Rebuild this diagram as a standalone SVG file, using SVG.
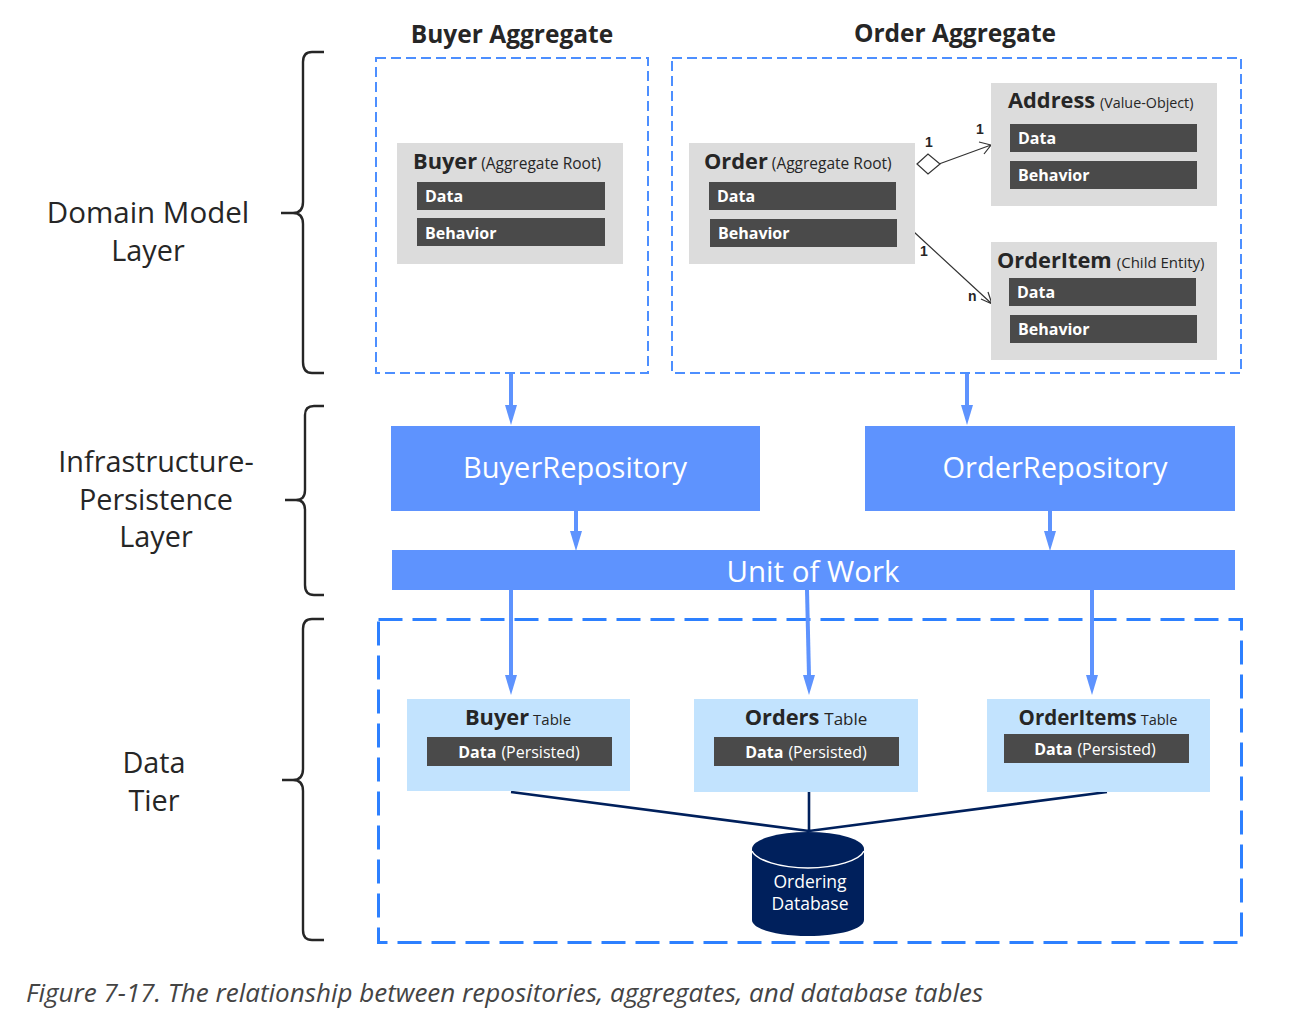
<svg xmlns="http://www.w3.org/2000/svg" width="1290" height="1024" viewBox="0 0 1290 1024">
<style>
text{font-family:"Open Sans","Noto Sans","Liberation Sans",sans-serif;fill:#262626}
.lay{font-size:28.800px;text-anchor:middle}
.hd{font-size:24.500px;font-weight:700;text-anchor:middle}
.grey{fill:#dcdcdc}
.dark{fill:#4a4a4a}
.tb{fill:#c2e3fe}
.blue{fill:#5e93fe}
.n{font-size:21.800px;font-weight:700}
.s{font-size:15.500px}
.t{font-size:15px}
.w{fill:#fff;font-size:16px;font-weight:700}
.wl{fill:#fff;font-weight:400;font-size:16px}
.big{fill:#fff;font-size:29px;text-anchor:middle}
.num{font-family:"Liberation Sans",sans-serif;font-size:14px;font-weight:700}
.brace{fill:none;stroke:#262626;stroke-width:2.4}
.dash{fill:none;stroke:#4d8fff;stroke-width:2;stroke-dasharray:10 5}
.dash2{fill:none;stroke:#2d80ff;stroke-width:3;stroke-dasharray:24 10}
.arr{stroke:#5e93fe;stroke-width:4;fill:none}
.thin{stroke:#333;stroke-width:1.2;fill:none}
.db{stroke:#00205c;stroke-width:2.6;fill:none}
</style>
<g id="layer-labels">
<text class="lay" x="148" y="223" style="font-size:29.500px">Domain Model</text><text class="lay" x="148" y="261">Layer</text>
<text class="lay" x="156" y="472">Infrastructure-</text><text class="lay" x="156" y="510">Persistence</text><text class="lay" x="156" y="547">Layer</text>
<text class="lay" x="154" y="773">Data</text><text class="lay" x="154" y="811">Tier</text>
</g>
<g id="braces">
<path class="brace" d="M324 52H312Q303 52 303 62V202Q303 213 293 213H281M293 213Q303 213 303 224V362Q303 373 312 373H324"/>
<path class="brace" d="M324 406H314Q305 406 305 415V490Q305 500 296 500H285M296 500Q305 500 305 510V585Q305 595 314 595H324"/>
<path class="brace" d="M324 619H312Q303 619 303 629V769Q303 780 293 780H282M293 780Q303 780 303 791V930Q303 940 312 940H324"/>
</g>
<g id="aggregate-titles">
<text class="hd" x="512" y="43">Buyer Aggregate</text>
<text class="hd" x="955" y="42">Order Aggregate</text>
</g>
<g id="buyer-aggregate"><rect class="dash" x="376" y="58" width="272" height="315"/></g>
<g id="order-aggregate"><rect class="dash" x="672" y="58" width="569" height="315"/></g>
<g id="data-tier"><rect class="dash2" x="378.500" y="619.500" width="863" height="323"/></g>
<g id="connectors">
<path class="arr" d="M511 374V406"/><path class="blue" d="M505 405H517L511 425Z"/>
<path class="arr" d="M967 374V406"/><path class="blue" d="M961 405H973L967 425Z"/>
<path class="arr" d="M576 511V532"/><path class="blue" d="M570 531H582L576 551Z"/>
<path class="arr" d="M1050 511V532"/><path class="blue" d="M1044 531H1056L1050 551Z"/>
<path class="arr" d="M511 590V676"/><path class="blue" d="M505 675H517L511 695Z"/>
<path class="arr" d="M807 590L809 676"/><path class="blue" d="M803 675H815L809 695Z"/>
<path class="arr" d="M1092 590V676"/><path class="blue" d="M1086 675H1098L1092 695Z"/>
<path class="thin" d="M939 164L991 145M979 142L991 145L984 154"/>
<path fill="#fff" stroke="#333" stroke-width="1.200" d="M917 164L928 154L940 164L928 174Z"/>
<path class="thin" d="M914 232L992 304M981 299L992 304L988 292"/>
<path class="db" d="M511 792L809 831L1107 792M809 792V831"/>
</g>
<g id="buyer"><rect class="grey" x="397" y="143" width="226" height="121"/><rect class="dark" x="417" y="182" width="188" height="28"/><rect class="dark" x="417" y="218" width="188" height="28"/>
<text x="413" y="169"><tspan class="n">Buyer</tspan><tspan class="s" dx="4">(Aggregate Root)</tspan></text><text class="w" x="425" y="202">Data</text><text class="w" x="425" y="239">Behavior</text></g>
<g id="order"><rect class="grey" x="689" y="143" width="226" height="121"/><rect class="dark" x="709" y="182" width="187" height="28"/><rect class="dark" x="710" y="219" width="187" height="28"/>
<text x="704" y="169"><tspan class="n">Order</tspan><tspan class="s" dx="4">(Aggregate Root)</tspan></text><text class="w" x="717" y="202">Data</text><text class="w" x="718" y="239">Behavior</text></g>
<g id="address"><rect class="grey" x="991" y="83" width="226" height="123"/><rect class="dark" x="1010" y="124" width="187" height="28"/><rect class="dark" x="1010" y="161" width="187" height="28"/>
<text x="1008" y="108"><tspan class="n">Address</tspan><tspan class="s" dx="5" style="font-size:14.300px">(Value-Object)</tspan></text><text class="w" x="1018" y="144">Data</text><text class="w" x="1018" y="181">Behavior</text></g>
<g id="orderitem"><rect class="grey" x="991" y="242" width="226" height="118"/><rect class="dark" x="1009" y="278" width="187" height="28"/><rect class="dark" x="1010" y="315" width="187" height="28"/>
<text x="997" y="268"><tspan class="n">OrderItem</tspan><tspan class="s" dx="5" style="font-size:15px">(Child Entity)</tspan></text><text class="w" x="1017" y="298">Data</text><text class="w" x="1018" y="335">Behavior</text></g>
<g id="labels-mult">
<text class="num" x="925" y="147">1</text><text class="num" x="976" y="134">1</text><text class="num" x="920" y="256">1</text><text class="num" x="968" y="301">n</text>
</g>
<g id="buyer-repository"><rect class="blue" x="391" y="426" width="369" height="85"/><text class="big" x="575" y="478">BuyerRepository</text></g>
<g id="order-repository"><rect class="blue" x="865" y="426" width="370" height="85"/><text class="big" x="1055" y="478">OrderRepository</text></g>
<g id="unit-of-work"><rect class="blue" x="392" y="550" width="843" height="40"/><text class="big" x="813" y="582" style="font-size:29.500px">Unit of Work</text></g>
<g id="buyer-table"><rect class="tb" x="407" y="699" width="223" height="92"/><rect class="dark" x="427" y="737" width="185" height="29"/>
<text x="518" y="725" text-anchor="middle"><tspan class="n">Buyer</tspan><tspan class="t" dx="4">Table</tspan></text>
<text x="519" y="758" text-anchor="middle"><tspan class="w">Data</tspan><tspan class="wl" dx="5">(Persisted)</tspan></text></g>
<g id="orders-table"><rect class="tb" x="694" y="699" width="224" height="93"/><rect class="dark" x="714" y="737" width="185" height="29"/>
<text x="806" y="725" text-anchor="middle"><tspan class="n">Orders</tspan><tspan class="t" dx="5" style="font-size:17px">Table</tspan></text>
<text x="806" y="758" text-anchor="middle"><tspan class="w">Data</tspan><tspan class="wl" dx="5">(Persisted)</tspan></text></g>
<g id="orderitems-table"><rect class="tb" x="987" y="699" width="223" height="93"/><rect class="dark" x="1004" y="734" width="185" height="29"/>
<text x="1098" y="725" text-anchor="middle"><tspan class="n" style="font-size:20.500px">OrderItems</tspan><tspan class="t" dx="4" style="font-size:14.500px">Table</tspan></text>
<text x="1095" y="755" text-anchor="middle"><tspan class="w">Data</tspan><tspan class="wl" dx="5">(Persisted)</tspan></text></g>
<g id="ordering-database">
<path fill="#00205c" d="M752 849V920C752 929 777 936 808 936S864 929 864 920V849Z"/>
<ellipse fill="#00205c" cx="808" cy="849" rx="56" ry="17"/>
<path fill="none" stroke="#fff" stroke-width="1.500" d="M752 851C756 860 780 868 808 868S860 860 864 851"/>
<text x="810" y="888" text-anchor="middle" style="fill:#fff;font-size:17.500px">Ordering</text>
<text x="810" y="910" text-anchor="middle" style="fill:#fff;font-size:17.500px">Database</text>
</g>
<g id="caption"><text x="26" y="1002" style="font-size:26px;font-style:italic;fill:#444">Figure 7-17. The relationship between repositories, aggregates, and database tables</text></g>
</svg>
